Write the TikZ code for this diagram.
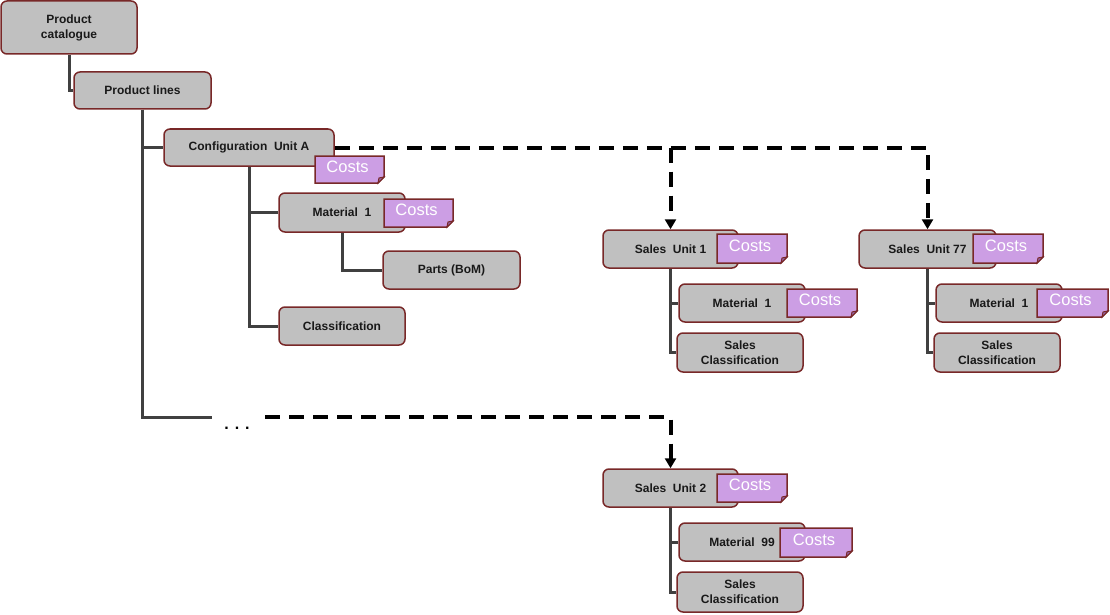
\documentclass[tikz,border=0pt]{standalone}
\usepackage{fontspec}
\setmainfont{Liberation Sans}
\usetikzlibrary{arrows.meta,calc}
\pgfdeclarelayer{background}
\pgfsetlayers{background,main}
\definecolor{boxgray}{RGB}{192,192,192}
\definecolor{boxedge}{RGB}{120,40,40}
\definecolor{lav}{RGB}{204,158,228}
\definecolor{lavdark}{RGB}{150,100,170}
\definecolor{connc}{RGB}{64,64,64}
\definecolor{txt}{RGB}{25,25,25}
\tikzset{
  box/.style={draw=boxedge, line width=1.5pt, fill=boxgray, rounded corners=6pt,
    inner sep=0pt, align=center, text=txt, font=\bfseries\fontsize{12}{15}\selectfont},
  conn/.style={draw=connc, line width=3pt},
  dashlink/.style={draw=black, line width=4pt, dash pattern=on 15pt off 9pt},
  dasharrow/.style={dashlink, -{Triangle[length=10pt,width=11pt]}},
  costfill/.style={fill=lav, draw=boxedge, line width=1.5pt, line join=miter},
  costlabel/.style={text=white, inner sep=0pt, font=\fontsize{16.5}{18}\selectfont},
}
\newcommand\costnote[5]{%
  \filldraw[costfill] (#2,#3) -- (#4,#3) -- ({#4},{#5-6}) -- ({#4-6},{#5}) -- (#2,#5) -- cycle;
  \filldraw[fill=lavdark, draw=boxedge, line width=1pt] ({#4},{#5-6}) -- ({#4-6},{#5}) -- ({#4-5},{#5-5}) -- cycle;
  \node[costlabel] (#1) at ({(#2+#4)/2-2},{(#3+#5)/2-3}) {Costs};
}
\newcommand\boxat[6]{% name, x1,y1,x2,y2, text
  \node[box, minimum width={#4-#2}, minimum height={#5-#3}] (#1) at ({(#2+#4)/2},{(#3+#5)/2}) {#6};
}
\begin{document}
\begin{tikzpicture}[x=1pt,y=-1pt]
\useasboundingbox (0,0) rectangle (1110,615);

\boxat{pc}{1}{1}{137}{54}{Product\\catalogue}
\boxat{pl}{74}{72}{211}{109}{Product lines}
\boxat{ca}{164}{129}{334}{166}{Configuration~ Unit A}
\boxat{m1}{279}{193}{405}{232}{Material~ 1}
\boxat{parts}{383}{251}{520}{289}{Parts (BoM)}
\boxat{cl}{279}{307}{405}{345}{Classification}

\boxat{su1}{603}{230}{738}{268}{Sales~ Unit 1}
\boxat{su1m}{679}{284}{805}{322}{Material~ 1}
\boxat{su1c}{677}{333}{803}{372}{Sales\\Classification}

\boxat{su77}{859}{230}{996}{268}{Sales~ Unit 77}
\boxat{su77m}{936}{284}{1062}{322}{Material~ 1}
\boxat{su77c}{934}{333}{1060}{372}{Sales\\Classification}

\boxat{su2}{603}{469}{738}{507}{Sales~ Unit 2}
\boxat{su2m}{679}{523}{805}{561}{Material~ 99}
\boxat{su2c}{677}{572}{803}{612}{Sales\\Classification}

\coordinate (dotsend) at (212,417);
\node[inner sep=0pt, anchor=base, font=\bfseries\fontsize{16}{16}\selectfont] (dots) at (237,429) {.\hspace{6pt}.\hspace{6pt}.};
\coordinate (dstart) at (265,417);

\begin{pgfonlayer}{background}
\draw[conn] (pc.south) |- (pl.west);
\draw[conn] (pl.south) |- (ca.west);
\draw[conn] (pl.south) |- (dotsend);
\draw[conn] (ca.south) |- (m1.west);
\draw[conn] (ca.south) |- (cl.west);
\draw[conn] (m1.south) |- (parts.west);
\draw[conn] (su1.south) |- (su1m.west);
\draw[conn] (su1.south) |- (su1c.west);
\draw[conn] (su77.south) |- (su77m.west);
\draw[conn] (su77.south) |- (su77c.west);
\draw[conn] (su2.south) |- (su2m.west);
\draw[conn] (su2.south) |- (su2c.west);
\end{pgfonlayer}

% dashed links
\coordinate (j1) at (su1.north |- ca.east);
\draw[dasharrow] (ca.east) -| (su77.north);
\draw[dasharrow] (j1) -- (su1.north);
\draw[dasharrow] (dstart) -| (su2.north);

% cost notes
\costnote{cca}{315}{156}{384}{183}
\costnote{cm1}{384}{199}{453}{227}
\costnote{csu1}{717}{234}{787}{263}
\costnote{csu1m}{787}{289}{857}{317}
\costnote{csu77}{973}{234}{1043}{263}
\costnote{csu77m}{1037}{289}{1108}{317}
\costnote{csu2}{717}{474}{787}{502}
\costnote{csu2m}{780}{528}{852}{557}
\end{tikzpicture}
\end{document}
